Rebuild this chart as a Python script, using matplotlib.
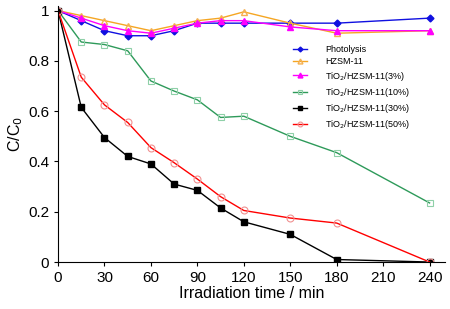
import matplotlib
matplotlib.use('Agg')
from matplotlib import pyplot as plt

plt.rcParams['font.family'] = ['Liberation Sans', 'DejaVu Sans']

time = [0, 15, 30, 45, 60, 75, 90, 105, 120, 150, 180, 240]

photolysis = [1, 0.96, 0.92, 0.90, 0.90, 0.92, 0.95, 0.95, 0.95, 0.95, 0.95, 0.97]
hzsm = [1, 0.98, 0.96, 0.94, 0.92, 0.94, 0.96, 0.97, 0.995, 0.95, 0.91, 0.92]
tio2_3 = [1, 0.97, 0.94, 0.92, 0.91, 0.93, 0.95, 0.96, 0.96, 0.935, 0.92, 0.92]
tio2_10 = [1, 0.875, 0.865, 0.84, 0.72, 0.68, 0.645, 0.575, 0.58, 0.50, 0.435, 0.235]
tio2_30 = [1, 0.615, 0.495, 0.42, 0.39, 0.31, 0.285, 0.215, 0.16, 0.11, 0.01, 0.0]
tio2_50 = [1, 0.735, 0.625, 0.555, 0.455, 0.395, 0.33, 0.26, 0.205, 0.175, 0.155, 0.0]

labels = ['Photolysis', 'HZSM-11', 'TiO$_2$/HZSM-11(3%)', 'TiO$_2$/HZSM-11(10%)',
          'TiO$_2$/HZSM-11(30%)', 'TiO$_2$/HZSM-11(50%)']

fig = plt.figure(figsize=(4.5, 3.09), dpi=100)
ax = fig.add_axes([0.129, 0.152, 0.86, 0.83])

ax.plot(time, photolysis, color='#1010e0', marker='D', ms=3.5, mfc='#1010e0',
        mec='#1010e0', lw=1, label=labels[0])
ax.plot(time, hzsm, color='#f5a623', marker='^', ms=5, mfc='none',
        mec='#f5b050', lw=1, label=labels[1])
ax.plot(time, tio2_3, color='#ff00ff', marker='^', ms=5, mfc='#ff00ff',
        mec='#ff00ff', lw=1, label=labels[2])
ax.plot(time, tio2_10, color='#2e9a5a', marker='s', ms=5, mfc='none',
        mec='#8fd0a8', mew=0.8, lw=1, label=labels[3])
ax.plot(time, tio2_30, color='black', marker='s', ms=5, mfc='black',
        mec='black', lw=1, label=labels[4])
ax.plot(time, tio2_50, color='#ff0000', marker='o', ms=5, mfc='none',
        mec='#f09090', mew=0.8, lw=1, label=labels[5])

ax.set_xlim(0, 250)
ax.set_ylim(0, 1.02)
ax.set_xticks(range(0, 241, 30))
ax.set_yticks([0, 0.2, 0.4, 0.6, 0.8, 1])
ax.set_yticklabels(['0', '0.2', '0.4', '0.6', '0.8', '1'])
ax.tick_params(direction='out', length=3, labelsize=11)
ax.spines['top'].set_visible(False)
ax.spines['right'].set_visible(False)
ax.set_xlabel('Irradiation time / min', fontsize=11.5, labelpad=1)
ax.set_ylabel('C/C$_0$', fontsize=11.5, labelpad=2)

leg = ax.legend(loc='upper left', bbox_to_anchor=(0.607, 0.845), frameon=False,
                fontsize=6.5, handlelength=1.6, labelspacing=0.35,
                handletextpad=2.0, borderpad=0, borderaxespad=0, markerscale=0.7)

fig.savefig('out.png', dpi=100)
